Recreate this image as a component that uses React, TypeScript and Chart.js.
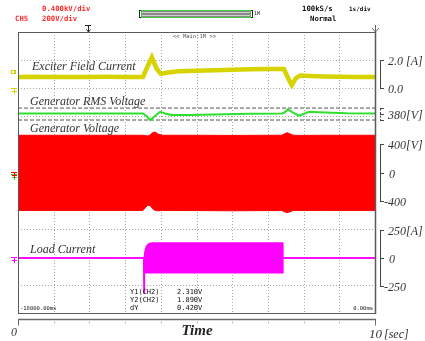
import React, { useEffect, useRef } from "react";
import { Chart, registerables } from "chart.js";

Chart.register(...registerables);

// ---- data (time in seconds) ----
const timeRange = [0, 10];
const gridDivisions = [1, 2, 3, 4, 5, 6, 7, 8, 9];

const exciterTime = [0, 0.5, 1, 1.5, 2, 2.5, 3, 3.5, 3.62, 3.75, 3.88, 4.0, 4.2, 4.5, 5, 5.5, 6, 6.5, 7, 7.45, 7.56, 7.67, 7.78, 7.9, 8.2, 8.6, 9, 9.5, 10];
const exciterAmps = [0.80, 0.81, 0.79, 0.80, 0.80, 0.81, 0.80, 0.80, 1.50, 2.20, 1.40, 1.02, 1.12, 1.20, 1.24, 1.28, 1.31, 1.34, 1.36, 1.37, 0.75, 0.22, 0.70, 0.90, 0.86, 0.83, 0.81, 0.80, 0.80];

const rmsTime = [0, 1, 2, 3, 3.5, 3.6, 3.7, 3.82, 3.98, 4.12, 4.3, 4.8, 5.5, 6.5, 7.4, 7.48, 7.56, 7.68, 7.87, 8.0, 8.15, 8.6, 9.2, 10];
const rmsVolts = [381, 381, 381, 381, 381, 376.7, 370, 375.8, 383.8, 381, 378.3, 378.3, 379.2, 380.3, 381, 383.3, 387.9, 383.3, 377.5, 380, 383.8, 382.5, 381.2, 381];
const rmsLimits = [370, 390];

const genTime = [0, 1, 2, 3, 3.5, 3.56, 3.63, 3.7, 3.77, 3.84, 3.92, 4.05, 5, 6, 7, 7.38, 7.46, 7.53, 7.6, 7.7, 7.85, 8.5, 9.5, 10];
const genUpper = [530, 530, 530, 530, 530, 525, 520, 535, 565, 578, 548, 530, 530, 528, 530, 530, 548, 566, 556, 532, 528, 530, 530, 530];
const genLower = [-540, -540, -540, -540, -540, -505, -468, -470, -515, -540, -545, -540, -542, -545, -542, -542, -556, -572, -562, -542, -540, -540, -540, -540];

const loadTime = [0, 3.52, 3.53, 3.54, 3.56, 3.6, 3.68, 3.8, 4.5, 5.5, 6.5, 7.41, 7.42, 10];
const loadUpper = [0, 0, 0, 15, 60, 105, 128, 133, 133, 133, 133, 133, 0, 0];
const loadLower = [0, 0, -311, -133, -133, -133, -133, -133, -133, -133, -133, -133, 0, 0];

const exciterTicks = [2.0, 0.0];
const exciterTickLabels = ["2.0 [A]", "0.0"];
const rmsTicks = [390, 380, 370];
const rmsTickLabels = ["", "380[V]", ""];
const genTicks = [400, 0, -400];
const genTickLabels = ["400[V]", "0", "-400"];
const loadTicks = [250, 0, -250];
const loadTickLabels = ["250[A]", "0", "-250"];

const traceTitles = ["Exciter Field Current", "Generator RMS Voltage", "Generator Voltage", "Load Current"];
const cursorLabels = ["Y1(CH2)", "Y2(CH2)", "dY"];
const cursorValues = ["2.310V", "1.890V", "0.420V"];

// channel settings: units per division, reference value, reference position (div from bottom)
const excPerDiv = 2, excRef = 0, excRefDiv = 8;
const rmsPerDiv = 47, rmsRef = 380, rmsRefDiv = 7.08;
const genPerDiv = 400, genRef = 0, genRefDiv = 5;
const loadPerDiv = 250, loadRef = 0, loadRefDiv = 1.96;

const YELLOW = "#d6d300";
const GREEN = "#2ee02e";
const RED = "#ff0000";
const MAGENTA = "#ff00ff";

function channelAxis(ref: number, refDiv: number, perDiv: number) {
  const min = ref - refDiv * perDiv;
  return { type: "linear" as const, display: false, min, max: min + 10 * perDiv };
}

function pts(t: number[], v: number[]) {
  return t.map((x, i) => ({ x, y: v[i] }));
}

function line(ctx: CanvasRenderingContext2D, x1: number, y1: number, x2: number, y2: number) {
  ctx.beginPath();
  ctx.moveTo(x1, y1);
  ctx.lineTo(x2, y2);
  ctx.stroke();
}

function bracket(ctx: CanvasRenderingContext2D, scale: any, ticks: number[], labels: string[], bx: number, dashed: boolean) {
  const ys = ticks.map((t) => Math.round(scale.getPixelForValue(t)) + 0.5);
  ctx.save();
  ctx.strokeStyle = "#444";
  ctx.lineWidth = 1;
  if (dashed) ctx.setLineDash([2, 1.5]);
  line(ctx, bx + 0.5, Math.min(...ys), bx + 0.5, Math.max(...ys));
  ctx.setLineDash([]);
  ys.forEach((y) => line(ctx, bx, y, bx + 4, y));
  ctx.fillStyle = "#333";
  ctx.font = "italic 12px 'Liberation Serif'";
  ctx.textBaseline = "middle";
  labels.forEach((l, i) => {
    if (!l) return;
    const x = l.startsWith("-") ? bx + 4 : l === "0" ? bx + 9 : bx + 8;
    ctx.fillText(l, x, ys[i] + 1);
  });
  ctx.restore();
}

function chMarker(ctx: CanvasRenderingContext2D, color: string, y: number) {
  ctx.save();
  ctx.strokeStyle = color;
  ctx.lineWidth = 1;
  line(ctx, 11, y - 2.5, 17, y - 2.5);
  line(ctx, 14.5, y - 2.5, 14.5, y + 3);
  line(ctx, 12, y + 0.5, 17, y + 0.5);
  ctx.restore();
}

const scopePlugin = {
  id: "scope",
  beforeDatasetsDraw(chart: any) {
    const { ctx, chartArea: a, scales } = chart;
    const xs = scales.x;
    const yd = scales.yDiv;
    ctx.save();
    ctx.strokeStyle = "#a9a9a9";
    ctx.lineWidth = 1;
    ctx.setLineDash([1, 2]);
    gridDivisions.forEach((d) => {
      const px = Math.round(xs.getPixelForValue(d)) + 0.5;
      line(ctx, px, a.top, px, a.bottom);
      const py = Math.round(yd.getPixelForValue(d)) + 0.5;
      line(ctx, a.left, py, a.right, py);
    });
    ctx.restore();
  },
  afterDraw(chart: any) {
    const { ctx, chartArea: a, scales } = chart;
    const xs = scales.x;
    ctx.save();

    // screen border
    ctx.strokeStyle = "#5a5a5a";
    ctx.lineWidth = 1;
    ctx.strokeRect(a.left + 0.5, a.top + 0.5, a.right - a.left, a.bottom - a.top);
    ctx.lineWidth = 1.5;
    line(ctx, a.right + 0.5, a.top, a.right + 0.5, a.bottom + 1);

    // header (red)
    ctx.fillStyle = "#ff2a2a";
    ctx.font = "bold 7.3px 'DejaVu Sans Mono'";
    ctx.textBaseline = "middle";
    ctx.fillText("0.400kV/div", 42, 9.5);
    ctx.fillText("CH5", 15, 19);
    ctx.fillText("200V/div", 42, 19);

    // header (black)
    ctx.fillStyle = "#111";
    ctx.fillText("100kS/s", 302, 9.5);
    ctx.fillText("Normal", 310, 19);
    ctx.font = "bold 6px 'DejaVu Sans Mono'";
    ctx.fillText("1s/div", 349, 9.5);

    // record bar
    ctx.fillStyle = "#8a8a8a";
    ctx.fillRect(141, 10, 110, 8);
    ctx.fillStyle = "#d0d0d0";
    ctx.fillRect(141, 12, 110, 1);
    ctx.fillRect(141, 15, 110, 1);
    ctx.strokeStyle = "#3ccc3c";
    ctx.lineWidth = 1;
    ctx.strokeRect(141.5, 10.5, 109, 7);
    ctx.strokeStyle = "#222";
    line(ctx, 139.5, 10, 139.5, 18);
    line(ctx, 139.5, 10.5, 141, 10.5);
    line(ctx, 139.5, 17.5, 141, 17.5);
    line(ctx, 252.5, 10, 252.5, 18);
    line(ctx, 251, 10.5, 252.5, 10.5);
    line(ctx, 251, 17.5, 252.5, 17.5);
    ctx.fillStyle = "#222";
    ctx.font = "5px 'DejaVu Sans Mono'";
    ctx.fillText("1M", 254, 14);

    // zoom label
    ctx.fillStyle = "#555";
    ctx.font = "5.5px 'DejaVu Sans Mono'";
    ctx.fillText("<< Main:1M >>", 173, 36.5);

    // trigger position marker
    ctx.strokeStyle = "#222";
    ctx.lineWidth = 1;
    line(ctx, 85, 25.5, 91, 25.5);
    line(ctx, 88.5, 25, 88.5, 32);
    line(ctx, 86.5, 29.5, 88.5, 32);
    line(ctx, 90.5, 29.5, 88.5, 32);
    // right-top marker
    ctx.strokeStyle = "#666";
    line(ctx, 372, 28, 375.5, 32);
    line(ctx, 379, 28, 375.5, 32);
    line(ctx, 375.5, 25, 375.5, 32);

    // channel markers on the left
    ctx.fillStyle = YELLOW;
    ctx.fillRect(11, 70, 5, 4);
    ctx.fillStyle = "#fff";
    ctx.fillRect(12, 71, 2, 2);
    chMarker(ctx, YELLOW, 91);
    chMarker(ctx, GREEN, 177);
    chMarker(ctx, RED, 175);
    chMarker(ctx, MAGENTA, 260);

    // trace titles
    ctx.fillStyle = "#333";
    ctx.font = "italic 12px 'Liberation Serif'";
    ctx.textBaseline = "middle";
    ctx.fillText(traceTitles[0], 32, 67);
    ctx.fillText(traceTitles[1], 30, 101.5);
    ctx.fillText(traceTitles[2], 30, 129);
    ctx.fillText(traceTitles[3], 30, 250);

    // right side scale brackets
    const bx = a.right + 5;
    bracket(ctx, scales.yExc, exciterTicks, exciterTickLabels, bx, false);
    bracket(ctx, scales.yRms, rmsTicks, rmsTickLabels, bx, true);
    bracket(ctx, scales.yGen, genTicks, genTickLabels, bx, false);
    bracket(ctx, scales.yLoad, loadTicks, loadTickLabels, bx, false);

    // cursor readout
    ctx.fillStyle = "#111";
    ctx.font = "7px 'DejaVu Sans Mono'";
    ctx.textBaseline = "middle";
    cursorLabels.forEach((l, i) => {
      ctx.fillText(l, 130, 292 + i * 8);
      ctx.fillText(cursorValues[i], 177, 292 + i * 8);
    });

    // time stamps
    ctx.font = "5.5px 'DejaVu Sans Mono'";
    ctx.fillText("-18000.00ms", a.left + 2, a.bottom - 4);
    ctx.textAlign = "right";
    ctx.fillText("0.00ms", a.right - 2, a.bottom - 4);
    ctx.textAlign = "left";

    // time axis
    const ty = a.bottom + 6.5;
    ctx.strokeStyle = "#6a6a6a";
    ctx.lineWidth = 1.5;
    line(ctx, a.left, ty, a.right + 1, ty);
    ctx.lineWidth = 1;
    line(ctx, a.left + 0.5, ty, a.left + 0.5, ty + 6);
    line(ctx, a.right + 0.5, ty, a.right + 0.5, ty + 6);
    ctx.strokeStyle = "#bbb";
    gridDivisions.forEach((d) => {
      const px = Math.round(xs.getPixelForValue(d)) + 0.5;
      line(ctx, px, ty + 2, px, ty + 4);
    });

    ctx.fillStyle = "#333";
    ctx.font = "italic 12px 'Liberation Serif'";
    ctx.textBaseline = "middle";
    ctx.fillText(String(timeRange[0]), xs.getPixelForValue(timeRange[0]) - 7, 333);
    ctx.font = "italic 13px 'Liberation Serif'";
    ctx.fillText(String(timeRange[1]), xs.getPixelForValue(timeRange[1]) - 6, 335);
    ctx.font = "italic 12px 'Liberation Serif'";
    ctx.fillText("[sec]", xs.getPixelForValue(timeRange[1]) + 9, 335);
    ctx.fillStyle = "#222";
    ctx.font = "bold italic 15px 'Liberation Serif'";
    ctx.textAlign = "center";
    ctx.fillText("Time", 197, 331);

    ctx.restore();
  },
};

export default function App() {
  const ref = useRef<HTMLCanvasElement | null>(null);
  useEffect(() => {
    if (!ref.current) return;
    const chart = new Chart(ref.current, {
      type: "line",
      data: {
        datasets: [
          {
            data: pts(exciterTime, exciterAmps),
            yAxisID: "yExc",
            borderColor: YELLOW,
            borderWidth: 4.5,
            fill: false,
          },
          {
            data: pts(rmsTime, rmsVolts),
            yAxisID: "yRms",
            borderColor: GREEN,
            borderWidth: 2,
            fill: false,
          },
          ...rmsLimits.map((v) => ({
            data: pts(timeRange, [v, v]),
            yAxisID: "yRms",
            borderColor: "#555",
            borderWidth: 1,
            borderDash: [4, 2],
            fill: false,
          })),
          {
            data: pts(genTime, genUpper),
            yAxisID: "yGen",
            borderColor: RED,
            borderWidth: 1,
            fill: false,
          },
          {
            data: pts(genTime, genLower),
            yAxisID: "yGen",
            borderColor: RED,
            borderWidth: 1,
            backgroundColor: RED,
            fill: "-1",
          },
          {
            data: pts(loadTime, loadUpper),
            yAxisID: "yLoad",
            borderColor: MAGENTA,
            borderWidth: 1.5,
            fill: false,
          },
          {
            data: pts(loadTime, loadLower),
            yAxisID: "yLoad",
            borderColor: MAGENTA,
            borderWidth: 1.5,
            backgroundColor: MAGENTA,
            fill: "-1",
          },
        ] as any,
      },
      options: {
        responsive: false,
        animation: false,
        events: [],
        layout: { padding: { left: 18, top: 32, right: 50, bottom: 28 } },
        elements: { point: { radius: 0 }, line: { tension: 0 } },
        plugins: { legend: { display: false }, tooltip: { enabled: false } },
        scales: {
          x: { type: "linear", display: false, min: timeRange[0], max: timeRange[1] },
          yDiv: { type: "linear", display: false, min: 0, max: 10 },
          yExc: channelAxis(excRef, excRefDiv, excPerDiv),
          yRms: channelAxis(rmsRef, rmsRefDiv, rmsPerDiv),
          yGen: channelAxis(genRef, genRefDiv, genPerDiv),
          yLoad: channelAxis(loadRef, loadRefDiv, loadPerDiv),
        } as any,
      },
      plugins: [scopePlugin],
    });
    return () => chart.destroy();
  }, []);
  return (
    <div style={{ position: "absolute", left: 0, top: 0, width: 425, height: 341, background: "#fff" }}>
      <canvas ref={ref} width={425} height={341} style={{ display: "block" }} />
    </div>
  );
}
